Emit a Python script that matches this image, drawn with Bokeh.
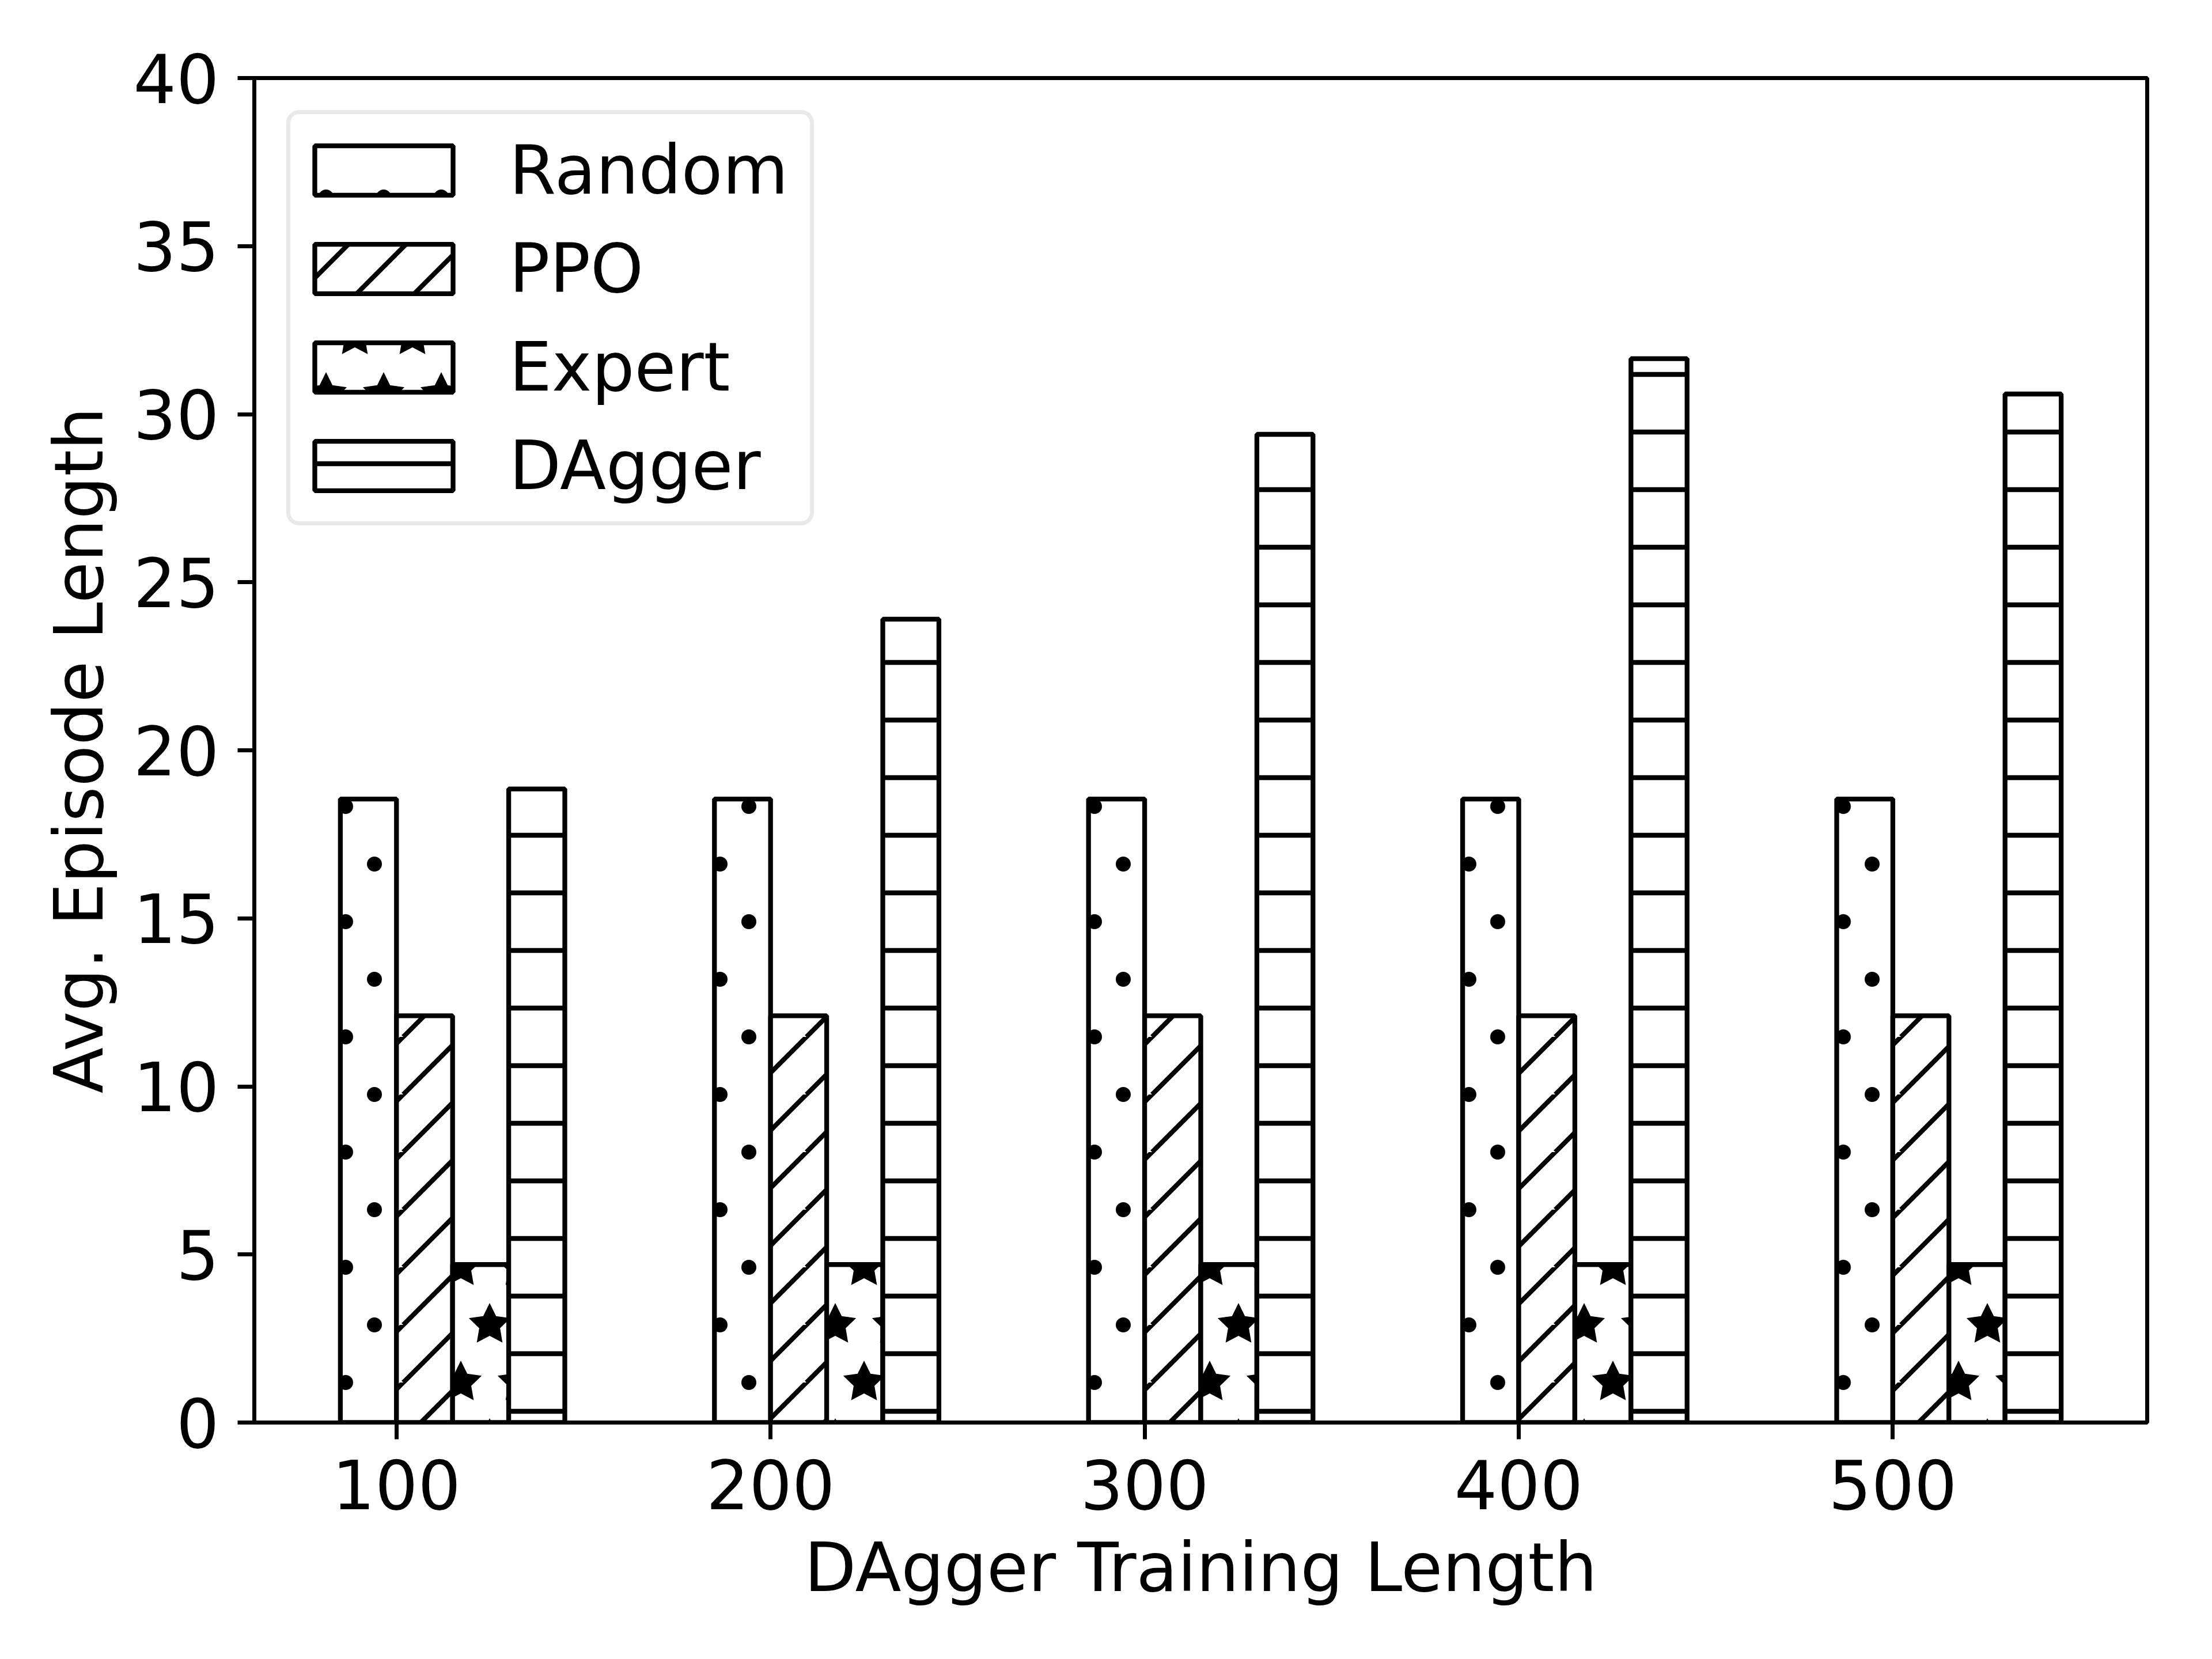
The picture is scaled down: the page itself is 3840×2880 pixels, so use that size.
from bokeh.plotting import figure
from bokeh.models import Range1d, FixedTicker, CanvasTexture, Legend
from bokeh.core.properties import value
from bokeh.embed import file_html
from bokeh.resources import INLINE
import numpy as np

# ---- data ----
train_len = [100, 200, 300, 400, 500]
random_len = [18.55, 18.55, 18.55, 18.55, 18.55]
ppo_len = [12.1, 12.1, 12.1, 12.1, 12.1]
expert_len = [4.7, 4.7, 4.7, 4.7, 4.7]
dagger_len = [18.85, 23.9, 29.4, 31.65, 30.6]
series_names = ["Random", "PPO", "Expert", "DAgger"]
y_ticks = [0, 5, 10, 15, 20, 25, 30, 35, 40]

FONT = "DejaVu Sans"
FS = "117px"
LW = 7

# ---- hatch textures (matplotlib-like) ----
def head(w, h):
    return f"""
const s = {w}; const t = {h}; const w = 8.3;
ctx.canvas.width = s; ctx.canvas.height = t;
ctx.setTransform(1, 0, 0, 1, 0, 0);
ctx.clearRect(0, 0, s, t);
const pts = [[0,0],[s,0],[0,t],[s,t],[s/2,t/2]];
"""

DOTS_JS = head(100, 200) + """
ctx.fillStyle = '#000';
for (const p of pts) { ctx.beginPath(); ctx.arc(p[0], p[1], 13, 0, 2*Math.PI); ctx.fill(); }
"""
DIAG_JS = head(100, 100) + """
ctx.strokeStyle = '#000'; ctx.lineWidth = w;
ctx.beginPath();
for (const k of [0, s, 2*s]) { ctx.moveTo(k + s, -s); ctx.lineTo(k - s, s); }
ctx.stroke();
"""
STAR_JS = head(100, 200) + """
const R = 38; const ri = R * 0.5;
ctx.fillStyle = '#000';
for (const p of pts) {
  ctx.beginPath();
  for (let i = 0; i < 10; i++) {
    const th = Math.PI/2 + i*Math.PI/5;
    const rr = (i % 2 == 0) ? R : ri;
    const x = p[0] + rr*Math.cos(th), y = p[1] - rr*Math.sin(th);
    if (i == 0) ctx.moveTo(x, y); else ctx.lineTo(x, y);
  }
  ctx.closePath(); ctx.fill();
}
"""
HLINE_JS = head(100, 100) + """
ctx.strokeStyle = '#000'; ctx.lineWidth = w;
ctx.beginPath(); ctx.moveTo(0, t/2); ctx.lineTo(s, t/2); ctx.stroke();
"""
textures = {
    "mpl_dots": CanvasTexture(code=DOTS_JS),
    "mpl_diag": CanvasTexture(code=DIAG_JS),
    "mpl_star": CanvasTexture(code=STAR_JS),
    "mpl_hline": CanvasTexture(code=HLINE_JS),
}
hatch_names = ["mpl_dots", "mpl_diag", "mpl_star", "mpl_hline"]

p = figure(width=3824, height=2864, output_backend="svg", toolbar_location=None,
           x_range=Range1d(62, 568), y_range=Range1d(0, 40),
           min_border_left=441, min_border_right=97, min_border_top=135, min_border_bottom=395)
p.background_fill_color = "white"
p.border_fill_color = "white"
p.outline_line_color = "black"
p.outline_line_width = LW
p.xgrid.visible = False
p.ygrid.visible = False

bar_w = 15.0
series = [random_len, ppo_len, expert_len, dagger_len]
xs_base = np.array(train_len, dtype=float)
items = []
for i, (name, vals, hn) in enumerate(zip(series_names, series, hatch_names)):
    xs = xs_base + (i * bar_w - bar_w / 2)
    r = p.vbar(x=xs, top=vals, width=bar_w, bottom=0,
               fill_color="white", line_color="black", line_width=8.3,
               hatch_pattern=value(hn), hatch_extra={hn: textures[hn]},
               hatch_scale=100, hatch_weight=8.3, hatch_color="black")
    items.append((name, [r]))

legend = Legend(items=items, location="top_left")
legend.margin = 56
legend.padding = 12
legend.spacing = 1
legend.label_height = 170
legend.label_width = 510
legend.glyph_width = 300
legend.glyph_height = 107
legend.label_standoff = 68
legend.label_text_font = FONT
legend.label_text_font_size = FS
legend.label_text_color = "black"
legend.border_line_color = "#d3d3d3"
legend.border_line_width = LW
legend.border_radius = 22
legend.background_fill_color = "white"
legend.background_fill_alpha = 1.0
p.add_layout(legend)

for ax in (p.xaxis[0], p.yaxis[0]):
    ax.axis_line_width = LW
    ax.axis_line_color = "black"
    ax.major_tick_in = 0
    ax.major_tick_out = 29
    ax.major_tick_line_width = LW
    ax.major_tick_line_color = "black"
    ax.minor_tick_line_color = None
    ax.major_label_text_font = FONT
    ax.major_label_text_font_size = FS
    ax.major_label_text_color = "black"
    ax.axis_label_text_font = FONT
    ax.axis_label_text_font_size = FS
    ax.axis_label_text_font_style = "normal"
    ax.axis_label_text_color = "black"

p.xaxis.ticker = FixedTicker(ticks=train_len)
p.yaxis.ticker = FixedTicker(ticks=y_ticks)
p.xaxis.axis_label = "DAgger Training Length"
p.yaxis.axis_label = "Avg. Episode Length"
p.xaxis.major_label_standoff = 35
p.yaxis.major_label_standoff = 32
p.xaxis.axis_label_standoff = 30
p.yaxis.axis_label_standoff = 23

open("out.html", "w").write(file_html(p, INLINE))
